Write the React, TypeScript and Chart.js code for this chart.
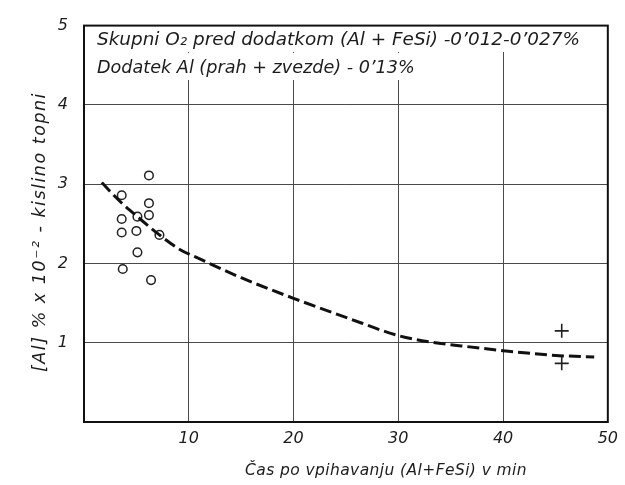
import React, { useEffect, useRef } from 'react';
import { Chart, registerables } from 'chart.js';
Chart.register(...registerables);

// Measured points (circles)
const circleX = [6.2, 3.6, 6.2, 6.2, 5.1, 3.6, 5.0, 3.6, 7.2, 5.1, 3.7, 6.4];
const circleY = [3.11, 2.86, 2.76, 2.61, 2.59, 2.56, 2.41, 2.39, 2.36, 2.14, 1.93, 1.79];
// Measured points (crosses)
const plusX = [45.6, 45.6];
const plusY = [1.15, 0.74];
// Dashed trend curve
const curveX = [1.7, 3.3, 5.1, 7.2, 9.1, 11, 15, 20, 25, 30, 33, 36, 40, 45, 48.7];
const curveY = [3.02, 2.8, 2.59, 2.36, 2.18, 2.06, 1.82, 1.56, 1.32, 1.09, 1.01, 0.96, 0.9, 0.84, 0.82];

const xTickLabels = ['', '10', '20', '30', '40', '50'];
const yTickLabels = ['', '1', '2', '3', '4', '5'];
const xTitle = 'Čas po vpihavanju (Al+FeSi) v min';
const yTitle = '[Al] % x 10⁻² - kislino topni';
const noteLines = [
  'Skupni O₂ pred dodatkom (Al + FeSi) -0’012-0’027%',
  'Dodatek Al (prah + zvezde) - 0’13%',
];

const FONT = '"DejaVu Sans", sans-serif';
const INK = '#1c1c1c';

function fitSize(ctx: CanvasRenderingContext2D, text: string, target: number) {
  ctx.font = `italic 20px ${FONT}`;
  (ctx as any).letterSpacing = '0px';
  const w = ctx.measureText(text).width;
  return (20 * target) / w;
}

function setSpaced(ctx: CanvasRenderingContext2D, text: string, size: number, target: number) {
  ctx.font = `italic ${size}px ${FONT}`;
  (ctx as any).letterSpacing = '0px';
  const w = ctx.measureText(text).width;
  const sp = Math.max(0, (target - w) / text.length);
  (ctx as any).letterSpacing = `${sp}px`;
}

const decorPlugin = {
  id: 'decor',
  afterDraw(chart: any) {
    const ctx: CanvasRenderingContext2D = chart.ctx;
    const a = chart.chartArea;
    ctx.save();
    // note texts with white background
    const noteTargets = [483, 318];
    const noteBase = [45, 73];
    noteLines.forEach((t, i) => {
      const size = fitSize(ctx, t, noteTargets[i]);
      ctx.font = `italic ${size}px ${FONT}`;
      const w = ctx.measureText(t).width;
      ctx.fillStyle = '#ffffff';
      ctx.fillRect(a.left + 4, noteBase[i] - 20, w + 14, 27);
      ctx.fillStyle = INK;
      ctx.textAlign = 'left';
      ctx.textBaseline = 'alphabetic';
      ctx.fillText(t, 97, noteBase[i]);
    });
    // frame
    ctx.strokeStyle = '#111';
    ctx.lineWidth = 2;
    ctx.strokeRect(a.left, a.top, a.right - a.left, a.bottom - a.top);
    // x title
    setSpaced(ctx, xTitle, 15.5, 282);
    ctx.fillStyle = INK;
    ctx.textAlign = 'center';
    ctx.textBaseline = 'middle';
    ctx.fillText(xTitle, 386, 471);
    // y title
    setSpaced(ctx, yTitle, 17.5, 280);
    ctx.translate(40, 232);
    ctx.rotate(-Math.PI / 2);
    ctx.fillText(yTitle, 0, 0);
    ctx.restore();
  },
};

export default function App() {
  const ref = useRef<HTMLCanvasElement>(null);
  useEffect(() => {
    const circles = circleX.map((x, i) => ({ x, y: circleY[i] }));
    const pluses = plusX.map((x, i) => ({ x, y: plusY[i] }));
    const curve = curveX.map((x, i) => ({ x, y: curveY[i] }));
    const chart = new Chart(ref.current!, {
      type: 'scatter',
      data: {
        datasets: [
          {
            type: 'line',
            data: curve,
            borderColor: '#111',
            borderWidth: 3,
            borderDash: [12, 5],
            pointRadius: 0,
            cubicInterpolationMode: 'monotone',
            fill: false,
          } as any,
          {
            data: circles,
            pointStyle: 'circle',
            pointRadius: 4.3,
            borderColor: '#222',
            borderWidth: 1.5,
            backgroundColor: '#fff',
          },
          {
            data: pluses,
            pointStyle: 'cross',
            pointRadius: 7,
            borderColor: '#222',
            borderWidth: 1.6,
            backgroundColor: '#fff',
          },
        ],
      },
      options: {
        responsive: false,
        animation: false,
        devicePixelRatio: 1,
        layout: { padding: { left: 0, top: 22, right: 14, bottom: 0 } },
        plugins: { legend: { display: false }, tooltip: { enabled: false } },
        scales: {
          x: {
            type: 'linear',
            min: 0,
            max: 50,
            afterFit: (s: any) => { s.height = 63; },
            grid: { color: '#4a4a4a', lineWidth: 1, drawTicks: false },
            border: { display: false },
            ticks: {
              stepSize: 10,
              padding: 7,
              maxRotation: 0,
              color: INK,
              font: { family: FONT, size: 16, style: 'italic' },
              callback: (_v: any, i: number) => xTickLabels[i],
            },
          },
          y: {
            type: 'linear',
            min: 0,
            max: 5,
            afterFit: (s: any) => { s.width = 84; },
            grid: { color: '#4a4a4a', lineWidth: 1, drawTicks: false },
            border: { display: false },
            ticks: {
              stepSize: 1,
              padding: 16,
              color: INK,
              font: { family: FONT, size: 16, style: 'italic' },
              callback: (_v: any, i: number) => yTickLabels[i],
            },
          },
        },
      },
      plugins: [decorPlugin],
    });
    return () => chart.destroy();
  }, []);
  return (
    <div style={{ position: 'absolute', left: 0, top: 0, width: 625, height: 485, background: '#fff' }}>
      <canvas ref={ref} width={625} height={485} />
    </div>
  );
}
